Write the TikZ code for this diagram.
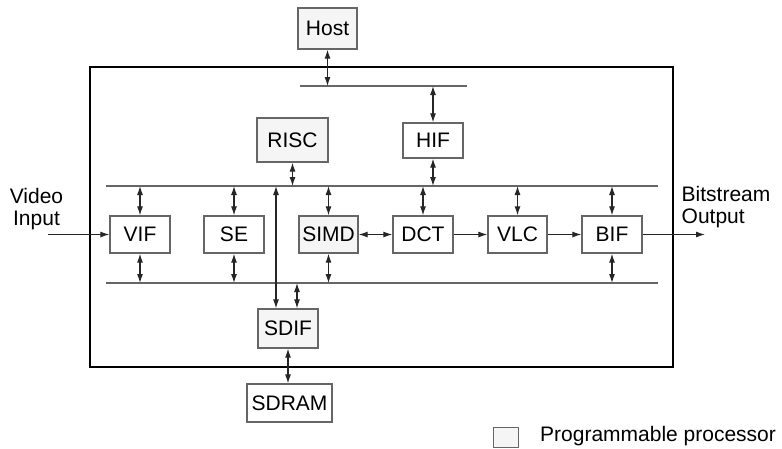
\documentclass[tikz,border=0pt]{standalone}
\usepackage{fontspec}
\setmainfont{Liberation Sans}
\usetikzlibrary{arrows.meta,calc}
\begin{document}
\begin{tikzpicture}[x=1pt,y=-1pt,
  every node/.style={font=\fontsize{21}{22}\selectfont},
  unit/.style={draw=black!60,line width=1.3pt,fill=white,inner sep=0pt,
    minimum width=60pt,minimum height=37pt},
  prog/.style={unit,fill=black!4},
  bus/.style={draw=black!60,line width=1.4pt},
  link/.style={draw=black!85,line width=1.1pt,
    {Latex[length=9pt,width=6pt]}-{Latex[length=9pt,width=6pt]}},
  flow/.style={draw=black!85,line width=1.1pt,-{Latex[length=9pt,width=6pt]}}]
\useasboundingbox (0,0) rectangle (782,448);

% chip outline
\draw[line width=2.8pt] (90,67) rectangle (673,367);

% buses
\coordinate (hbL) at (300,86);  \coordinate (hbR) at (467,86);
\coordinate (ubL) at (106,186); \coordinate (ubR) at (658,186);
\coordinate (lbL) at (106,283); \coordinate (lbR) at (658,283);
\draw[bus] (hbL) -- (hbR);
\draw[bus] (ubL) -- (ubR);
\draw[bus] (lbL) -- (lbR);

% blocks
\node[prog,minimum width=59pt,minimum height=41pt] (host) at (327.5,28.5) {Host};
\node[prog,minimum width=71pt,minimum height=44pt] (risc) at (292.5,140) {RISC};
\node[unit,minimum height=35pt] (hif) at (433,140.5) {HIF};
\node[unit] (vif)  at (140,234.5) {VIF};
\node[unit] (se)   at (234,234.5) {SE};
\node[prog,minimum width=59pt] (simd) at (328.5,234.5) {SIMD};
\node[unit] (dct)  at (423,234.5) {DCT};
\node[unit,minimum width=59pt] (vlc) at (517.5,234.5) {VLC};
\node[unit] (bif)  at (612,234.5) {BIF};
\node[prog,minimum height=39pt] (sdif) at (288,328.5) {SDIF};
\node[unit,minimum width=85pt,minimum height=38pt] (sdram) at (289.5,403) {SDRAM};

% host side
\draw[link] (host.south) -- (host.south |- hbL);
\draw[link] (hif.north) -- (hif.north |- hbL);
\draw[link] (hif.south) -- (hif.south |- ubL);
\draw[link] (risc.south) -- (risc.south |- ubL);

% units on the upper bus
\foreach \n in {vif,se,simd,dct,vlc,bif}
  \draw[link] (\n.north) -- (\n.north |- ubL);
% units on the lower bus
\foreach \n in {vif,se,simd,bif}
  \draw[link] (\n.south) -- (\n.south |- lbL);

% memory interface
\coordinate (sdA) at ([xshift=-12pt]sdif.north);
\coordinate (sdB) at ([xshift=9pt]sdif.north);
\draw[link] (sdA |- ubL) -- (sdA);
\draw[link] (sdB |- lbL) -- (sdB);
\draw[link] (sdif.south) -- (sdif.south |- sdram.north);

% data path
\draw[link] (simd.east) -- (dct.west);
\draw[flow] (dct.east) -- (vlc.west);
\draw[flow] (vlc.east) -- (bif.west);

% external input and output
\coordinate (vin) at (48,234.5);
\coordinate (bout) at (705,234.5);
\draw[flow] (vin) -- (vif.west);
\draw[flow] (bif.east) -- (bout);
\node[align=center,inner sep=0pt] (vtxt) at (36.5,209) {Video\\Input};
\node[align=left,anchor=west,inner sep=0pt] (btxt) at (681.5,207) {Bitstream\\Output};

% legend
\node[prog,minimum width=25pt,minimum height=20pt,line width=1pt] (key) at (505.5,437) {};
\node[anchor=west,inner sep=0pt] (keytxt) at (540,436) {Programmable processor};
\end{tikzpicture}
\end{document}
